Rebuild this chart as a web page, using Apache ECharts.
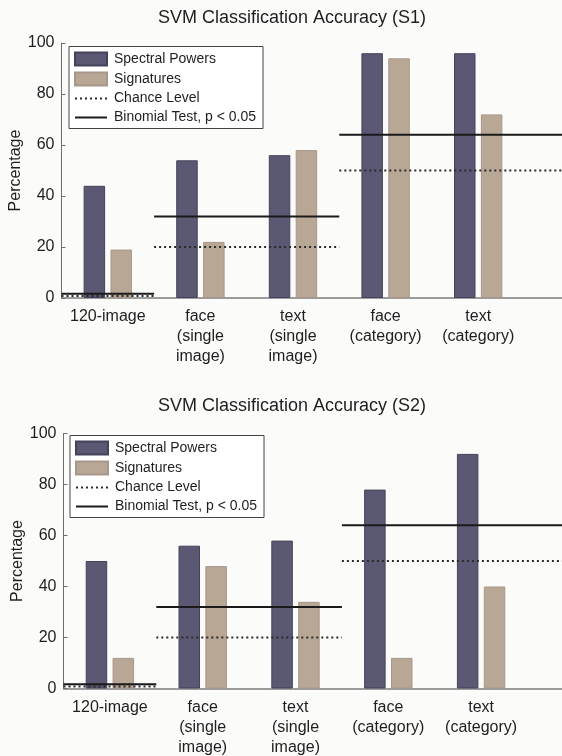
<!DOCTYPE html>
<html>
<head>
<meta charset="utf-8">
<title>SVM Classification Accuracy</title>
<script src="https://cdn.jsdelivr.net/npm/echarts@6/dist/echarts.min.js"></script>
<style>
  html, body { margin: 0; padding: 0; background: #fbfbfa; }
  #chart { width: 562px; height: 756px; }
</style>
</head>
<body>
<div id="chart"></div>
<script>
// Classification tasks (x-axis)
const categories = ['120-image', 'face\n(single\nimage)', 'text\n(single\nimage)', 'face\n(category)', 'text\n(category)'];

// Accuracy (%) per subject and feature type
const s1Spectral = [44, 54, 56, 96, 96];
const s1Signatures = [19, 22, 58, 94, 72];
const s2Spectral = [50, 56, 58, 78, 92];
const s2Signatures = [12, 48, 34, 12, 40];

// Reference levels (%) per task
const chanceLevel = [0.83, 20, 20, 50, 50];
const binomialLevel = [1.67, 32, 32, 64, 64];

// Tasks sharing one reference level: [first index, end index); the last run continues to the axis end
const levelRuns = [[0, 1], [1, 3], [3, 6]];

const yTicks = [0, 20, 40, 60, 80, 100];

const FONT = 'Liberation Sans, Arial, sans-serif';
const TXT = '#1e1e1e';
const DARK = '#5b5873', DARK_EDGE = '#45435a';
const TAN = '#b9a796', TAN_EDGE = '#a8978a';

// 6 bands: 5 tasks plus an empty band that carries the axis to the right edge
const bandCats = categories.concat(['']);

function runLine(levels) {
  const pts = [];
  levelRuns.forEach(([a, b], i) => {
    if (i > 0) pts.push([a, '-']);
    pts.push([a, levels[a]], [b, levels[a]]);
  });
  return pts;
}

const panels = [
  { title: 'SVM Classification Accuracy (S1)', titleTop: 9, left: 61.5, top: 43, width: 555.6, spectral: s1Spectral, signatures: s1Signatures, legendLeft: 69, legendTop: 46.5 },
  { title: 'SVM Classification Accuracy (S2)', titleTop: 397, left: 63.5, top: 433.5, width: 556.8, spectral: s2Spectral, signatures: s2Signatures, legendLeft: 70, legendTop: 435.5 }
];

const option = {
  backgroundColor: '#fbfbfa',
  animation: false,
  title: [], legend: [], grid: [], xAxis: [], yAxis: [], series: []
};

const hiddenSymbol = { opacity: 0 };

panels.forEach((p, i) => {
  option.title.push({
    text: p.title, left: 292, top: p.titleTop, textAlign: 'center', padding: 0,
    textStyle: { fontFamily: FONT, fontSize: 18, fontWeight: 'normal', color: TXT }
  });
  option.grid.push({
    left: p.left, top: p.top, width: p.width, height: 255,
    containLabel: false, outerBoundsMode: 'none'
  });
  option.xAxis.push({
    type: 'category', gridIndex: i, data: bandCats,
    axisLine: { lineStyle: { color: '#7d7d7d', width: 1.5 } },
    axisTick: { show: false },
    axisLabel: { interval: 0, margin: 9, fontFamily: FONT, fontSize: 16, lineHeight: 20, color: TXT },
    splitLine: { show: false }
  });
  option.xAxis.push({
    type: 'value', gridIndex: i, min: 0, max: 6, show: false
  });
  option.yAxis.push({
    type: 'value', gridIndex: i, min: yTicks[0], max: yTicks[yTicks.length - 1], interval: 20,
    name: 'Percentage', nameLocation: 'middle', nameGap: 38, nameMoveOverlap: false,
    nameTextStyle: { fontFamily: FONT, fontSize: 16, color: TXT },
    axisLine: { show: true, lineStyle: { color: '#6e6e6e', width: 1 } },
    axisTick: { show: true, inside: true, length: 4, lineStyle: { color: '#6e6e6e' } },
    axisLabel: { margin: 7, fontFamily: FONT, fontSize: 16, color: TXT },
    splitLine: { show: false }
  });
  const xa = i * 2;
  option.series.push({
    name: 'Spectral Powers', type: 'bar', xAxisIndex: xa, yAxisIndex: i,
    data: p.spectral, barWidth: 21.5, barGap: '25%',
    itemStyle: { color: DARK, borderColor: DARK_EDGE, borderWidth: 1 }
  });
  option.series.push({
    name: 'Signatures', type: 'bar', xAxisIndex: xa, yAxisIndex: i,
    data: p.signatures, barWidth: 21.5, barGap: '25%',
    itemStyle: { color: TAN, borderColor: TAN_EDGE, borderWidth: 1 }
  });
  option.series.push({
    name: 'Chance Level', type: 'line', xAxisIndex: xa + 1, yAxisIndex: i,
    data: runLine(chanceLevel), showSymbol: false, symbol: 'none', connectNulls: false, z: 5,
    itemStyle: { color: '#2a2a2a' },
    lineStyle: { color: '#2a2a2a', width: 2, type: [2, 3] }
  });
  option.series.push({
    name: 'Binomial Test, p < 0.05', type: 'line', xAxisIndex: xa + 1, yAxisIndex: i,
    data: runLine(binomialLevel), showSymbol: false, symbol: 'none', connectNulls: false, z: 5,
    itemStyle: { color: '#1a1a1a' },
    lineStyle: { color: '#1a1a1a', width: 2, type: 'solid' }
  });
  option.legend.push({
    orient: 'vertical', left: p.legendLeft, top: p.legendTop,
    data: [
      { name: 'Spectral Powers', icon: 'rect' },
      { name: 'Signatures', icon: 'rect' },
      { name: 'Chance Level', itemStyle: hiddenSymbol },
      { name: 'Binomial Test, p < 0.05', itemStyle: hiddenSymbol }
    ],
    itemWidth: 32, itemHeight: 13, itemGap: 5,
    padding: [5, 7, 4, 5],
    borderColor: '#444', borderWidth: 1, backgroundColor: '#ffffff',
    selectedMode: false,
    textStyle: { fontFamily: FONT, fontSize: 14, lineHeight: 14, color: TXT, padding: [0, 0, 0, 2] }
  });
});

const chart = echarts.init(document.getElementById('chart'), null, { renderer: 'canvas' });
chart.setOption(option);
</script>
</body>
</html>
